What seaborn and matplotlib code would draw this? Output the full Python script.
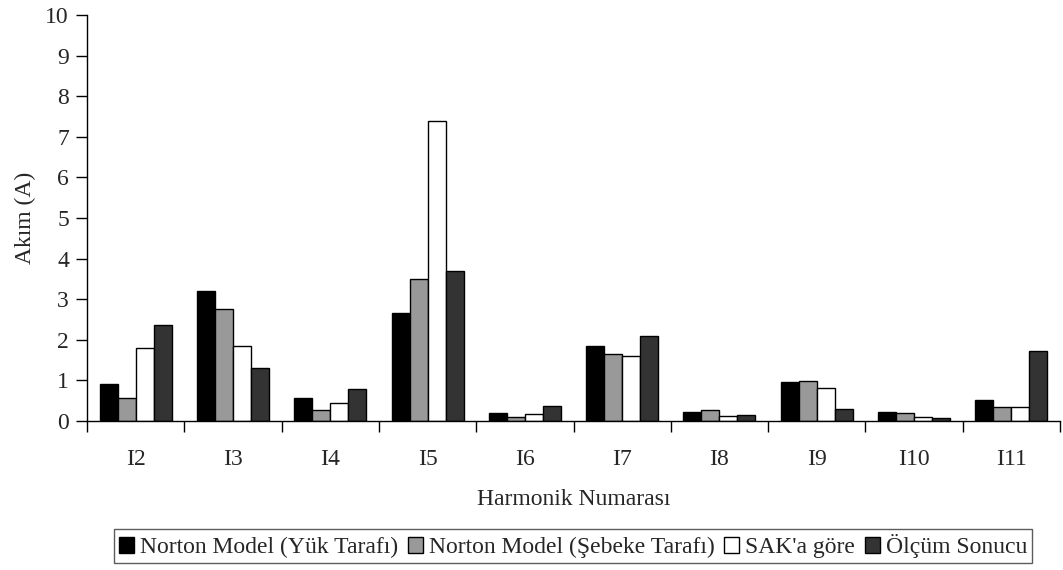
import matplotlib
matplotlib.use("Agg")
import matplotlib.pyplot as plt
import seaborn as sns
import pandas as pd
import numpy as np

categories = ["I2", "I3", "I4", "I5", "I6", "I7", "I8", "I9", "I10", "I11"]
series_names = ["Norton Model (Yük Tarafı)", "Norton Model (Şebeke Tarafı)", "SAK'a göre", "Ölçüm Sonucu"]
norton_yuk = [0.92, 3.20, 0.57, 2.66, 0.20, 1.85, 0.22, 0.97, 0.23, 0.52]
norton_sebeke = [0.57, 2.77, 0.28, 3.49, 0.11, 1.64, 0.27, 0.98, 0.20, 0.35]
sak = [1.80, 1.84, 0.45, 7.39, 0.18, 1.59, 0.13, 0.82, 0.10, 0.34]
olcum = [2.37, 1.30, 0.80, 3.69, 0.36, 2.10, 0.16, 0.30, 0.07, 1.73]
colors = ["#000000", "#999999", "#ffffff", "#333333"]

rows = []
for name, vals in zip(series_names, [norton_yuk, norton_sebeke, sak, olcum]):
    for c, v in zip(categories, vals):
        rows.append({"Harmonik": c, "Seri": name, "Akım": v})
df = pd.DataFrame(rows)

sns.set_style("white")
plt.rcParams["font.family"] = ["Liberation Serif", "DejaVu Serif"]
FS = 17

fig = plt.figure(figsize=(10.63, 5.70), dpi=100)
ax = fig.add_axes([87/1063, 1-421/570, (1060-87)/1063, (421-15)/570])

sns.barplot(data=df, x="Harmonik", y="Akım", hue="Seri", hue_order=series_names,
            order=categories, palette=colors, width=0.74, edgecolor="black",
            linewidth=1.0, saturation=1, ax=ax, legend=True)

ax.set_ylim(0, 10)
ax.set_xlim(-0.5, len(categories) - 0.5)
ax.set_yticks(np.arange(0, 11, 1))
ax.tick_params(axis="y", direction="out", length=8, width=1, labelsize=FS, left=True,
               color="black", pad=5)
ax.set_xticks(np.arange(-0.5, len(categories), 1.0), minor=True)
ax.tick_params(axis="x", which="major", length=0, labelsize=FS, pad=20)
ax.tick_params(axis="x", which="minor", direction="out", length=8, width=1, bottom=True, color="black")
for s in ["top", "right"]:
    ax.spines[s].set_visible(False)
for s in ["left", "bottom"]:
    ax.spines[s].set_color("black")
    ax.spines[s].set_linewidth(1)

ax.set_xlabel("Harmonik Numarası", fontsize=FS, labelpad=14)
ax.set_ylabel("Akım (A)", fontsize=FS, labelpad=7)

handles, labels = ax.get_legend_handles_labels()
ax.legend_.remove()
leg = fig.legend(handles, labels, loc="center", bbox_to_anchor=(573/1063, 1-546/570), ncol=4,
                 fontsize=FS, frameon=True, fancybox=False, edgecolor="#333333",
                 handlelength=0.65, handleheight=0.65, handletextpad=0.25, columnspacing=0.4,
                 borderpad=0.2, borderaxespad=0)
leg.get_frame().set_linewidth(1)

fig.savefig("out.png", dpi=100)
